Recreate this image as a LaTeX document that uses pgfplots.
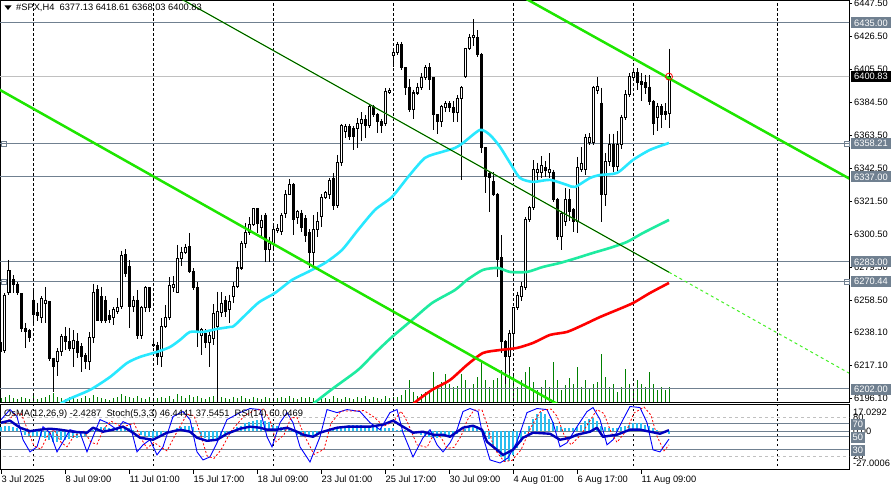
\documentclass[border=0pt]{standalone}
\usepackage{fontspec}
\setmainfont{Liberation Sans}
\usepackage{pgfplots}
\usepackage{pgfplotstable}
\pgfplotsset{compat=1.18}

\definecolor{slate}{RGB}{112,128,144}
\definecolor{silv}{RGB}{192,192,192}
\definecolor{macyan}{RGB}{40,232,255}
\definecolor{masg}{RGB}{30,235,160}
\definecolor{tline}{RGB}{30,230,0}
\definecolor{tdash}{RGB}{70,240,40}
\definecolor{volg}{RGB}{0,128,0}
\definecolor{osma}{RGB}{40,190,240}
\definecolor{rsib}{RGB}{0,0,190}
\newcommand\lbl{\fontsize{9.3}{11}\selectfont}

% H4 candles: bar index, open, high, low, close
\pgfplotstableread{
i o h l c
0 6231.3 6233.2 6223.6 6225.6
1 6226.8 6263.1 6225.0 6261.8
2 6263.1 6284.1 6261.8 6277.3
3 6271.4 6274.6 6263.1 6268.2
4 6268.8 6270.0 6261.8 6263.1
5 6262.5 6263.0 6238.0 6240.8
6 6240.8 6244.0 6228.0 6238.3
7 6238.9 6240.0 6232.0 6234.5
8 6258.6 6265.0 6242.7 6249.1
9 6250.5 6257.0 6245.0 6248.5
10 6247.8 6261.0 6244.0 6259.3
11 6256.7 6267.0 6244.0 6258.6
12 6257.4 6258.0 6220.0 6221.7
13 6221.7 6222.0 6200.3 6216.0
14 6219.2 6228.0 6210.0 6225.6
15 6225.6 6237.0 6223.0 6235.1
16 6235.1 6241.5 6226.8 6231.9
17 6231.9 6241.0 6226.0 6228.0
18 6228.0 6239.5 6216.0 6233.0
19 6232.5 6237.6 6222.0 6225.0
20 6229.0 6231.0 6213.0 6222.4
21 6223.0 6225.0 6215.0 6219.8
22 6219.2 6238.0 6214.0 6234.5
23 6235.0 6269.0 6231.0 6263.7
24 6265.0 6268.0 6245.0 6245.9
25 6260.6 6267.0 6244.0 6245.9
26 6258.6 6261.0 6244.0 6245.9
27 6248.5 6252.0 6244.0 6246.5
28 6247.2 6254.0 6243.0 6252.3
29 6251.0 6260.0 6250.0 6254.0
30 6254.2 6290.0 6253.0 6286.7
31 6287.3 6291.0 6273.0 6275.8
32 6279.7 6284.0 6241.0 6254.2
33 6254.2 6261.0 6251.0 6258.6
34 6258.6 6265.0 6234.0 6236.3
35 6236.3 6255.0 6234.0 6253.6
36 6253.6 6267.5 6251.0 6266.3
37 6266.3 6266.3 6251.0 6253.6
38 6230.6 6234.5 6228.7 6229.4
39 6229.4 6232.0 6217.0 6222.4
40 6222.4 6247.0 6216.0 6241.5
41 6241.5 6255.5 6240.8 6247.2
42 6247.2 6273.0 6246.0 6267.6
43 6266.9 6273.8 6264.0 6268.2
44 6263.7 6293.7 6263.0 6284.8
45 6284.8 6292.4 6280.0 6288.6
46 6288.6 6294.0 6288.0 6291.8
47 6292.4 6301.3 6276.0 6276.5
48 6276.5 6279.0 6265.0 6266.3
49 6266.3 6270.0 6229.0 6238.3
50 6236.3 6241.0 6223.6 6239.6
51 6237.6 6240.0 6228.0 6231.3
52 6231.3 6238.0 6216.0 6236.3
53 6234.0 6256.0 6230.0 6250.0
54 6242.0 6264.0 6194.0 6251.0
55 6250.4 6263.7 6248.0 6256.7
56 6258.6 6261.0 6248.0 6251.0
57 6252.6 6262.0 6244.0 6257.8
58 6260.6 6270.0 6257.0 6267.0
59 6267.0 6283.3 6266.0 6279.0
60 6279.0 6296.2 6278.0 6294.9
61 6294.9 6307.7 6291.8 6301.3
62 6301.3 6311.4 6300.0 6307.0
63 6307.0 6317.2 6306.0 6316.6
64 6316.6 6317.2 6301.0 6307.6
65 6305.0 6313.0 6299.0 6309.0
66 6312.7 6314.0 6283.0 6290.5
67 6290.5 6299.0 6283.0 6294.9
68 6294.9 6306.4 6291.0 6303.8
69 6303.0 6307.0 6301.0 6304.2
70 6302.5 6314.0 6300.0 6312.7
71 6313.4 6328.5 6311.0 6326.0
72 6326.0 6335.7 6325.5 6331.9
73 6331.9 6333.2 6300.0 6309.6
74 6310.9 6316.0 6307.0 6314.7
75 6314.0 6316.0 6302.0 6304.5
76 6310.2 6312.7 6295.5 6300.0
77 6301.3 6303.8 6279.0 6288.6
78 6288.6 6312.7 6279.0 6303.2
79 6303.2 6314.7 6299.0 6308.3
80 6311.5 6325.8 6305.0 6324.0
81 6324.0 6328.0 6323.0 6327.0
82 6326.0 6336.3 6323.0 6334.4
83 6335.7 6339.5 6316.0 6319.1
84 6319.1 6351.0 6317.0 6345.9
85 6345.9 6370.7 6344.0 6369.4
86 6365.6 6370.7 6362.0 6368.8
87 6368.8 6370.7 6360.5 6362.4
88 6367.5 6369.4 6354.0 6362.4
89 6368.1 6374.5 6355.3 6370.7
90 6370.7 6378.0 6360.0 6373.3
91 6373.3 6376.4 6362.0 6369.4
92 6369.4 6383.0 6368.0 6381.5
93 6381.5 6383.0 6375.0 6377.0
94 6377.0 6377.6 6365.0 6372.0
95 6372.0 6374.0 6365.0 6370.0
96 6371.3 6393.4 6369.4 6391.6
97 6390.8 6393.6 6390.0 6391.9
98 6414.0 6418.5 6407.0 6416.0
99 6415.9 6423.0 6414.7 6421.0
100 6421.0 6422.9 6405.0 6406.4
101 6406.4 6406.4 6389.4 6394.2
102 6394.2 6399.0 6378.0 6379.6
103 6379.6 6392.6 6374.0 6390.4
104 6390.4 6396.8 6389.4 6394.2
105 6393.6 6403.0 6392.0 6400.0
106 6400.0 6408.0 6398.7 6406.4
107 6406.4 6409.6 6392.3 6398.7
108 6400.0 6400.6 6366.9 6376.4
109 6376.4 6376.4 6364.0 6372.0
110 6372.0 6383.0 6369.0 6381.5
111 6380.9 6385.0 6378.0 6383.4
112 6383.4 6385.0 6378.0 6380.9
113 6380.9 6385.0 6372.0 6378.3
114 6378.3 6389.0 6372.0 6387.2
115 6387.2 6394.8 6335.0 6393.6
116 6400.6 6419.2 6400.0 6418.5
117 6419.0 6428.0 6418.0 6426.0
118 6425.5 6437.3 6420.0 6426.8
119 6425.5 6430.5 6413.4 6414.6
120 6414.6 6415.9 6352.2 6355.4
121 6355.4 6356.0 6326.8 6337.0
122 6339.0 6340.0 6314.7 6336.3
123 6333.8 6340.0 6325.0 6326.0
124 6326.0 6326.8 6273.3 6284.1
125 6285.4 6300.0 6224.9 6231.9
126 6231.9 6233.0 6205.0 6222.4
127 6222.4 6239.6 6212.0 6237.6
128 6237.6 6254.2 6227.0 6253.6
129 6253.6 6264.0 6252.0 6261.8
130 6260.6 6270.0 6258.0 6267.0
131 6266.3 6311.5 6265.0 6309.6
132 6309.6 6318.5 6308.0 6317.2
133 6317.2 6347.7 6316.0 6341.4
134 6339.5 6346.0 6334.0 6342.0
135 6339.5 6350.0 6336.0 6344.0
136 6343.0 6347.0 6337.0 6340.8
137 6340.0 6352.0 6336.0 6341.4
138 6340.0 6341.4 6321.0 6322.3
139 6322.3 6323.6 6296.8 6298.8
140 6298.8 6315.3 6290.5 6314.0
141 6308.3 6330.0 6306.0 6322.3
142 6322.3 6329.0 6309.0 6314.7
143 6316.0 6317.0 6302.0 6308.3
144 6308.3 6349.7 6301.3 6342.7
145 6342.0 6356.0 6340.0 6345.3
146 6341.4 6364.0 6338.0 6361.8
147 6358.6 6365.0 6357.0 6361.8
148 6358.6 6395.0 6357.0 6393.6
149 6392.0 6400.6 6390.0 6394.5
150 6384.0 6393.6 6308.3 6325.5
151 6325.5 6352.0 6318.5 6346.5
152 6346.5 6364.5 6344.0 6357.3
153 6357.3 6364.5 6340.0 6343.3
154 6343.5 6366.0 6341.0 6357.3
155 6357.3 6376.5 6355.0 6374.5
156 6374.5 6392.3 6373.3 6389.2
157 6389.2 6403.0 6388.0 6400.6
158 6400.0 6404.9 6398.7 6403.2
159 6403.2 6406.0 6392.0 6397.4
160 6397.4 6403.0 6385.0 6395.5
161 6397.0 6402.0 6390.0 6394.0
162 6394.2 6402.0 6383.0 6384.7
163 6384.7 6386.0 6363.7 6371.3
164 6375.0 6384.0 6366.0 6381.5
165 6381.5 6383.5 6368.0 6376.4
166 6378.5 6384.0 6373.0 6376.4
167 6377.13 6418.61 6368.03 6400.83
}\candles

% tick volume, in pixels of the price panel
\pgfplotstableread{
i v
0 4
1 5
2 7
3 4
4 3
5 5
6 4
7 3
8 6
9 3
10 4
11 5
12 7
13 9
14 5
15 4
16 3
17 5
18 4
19 3
20 4
21 6
22 4
23 7
24 5
25 4
26 3
27 2
28 4
29 5
30 8
31 6
32 5
33 4
34 6
35 4
36 3
37 5
38 3
39 4
40 5
41 4
42 6
43 3
44 8
45 6
46 4
47 7
48 5
49 6
50 4
51 3
52 5
53 6
54 12
55 5
56 4
57 3
58 5
59 4
60 6
61 4
62 3
63 5
64 4
65 3
66 5
67 4
68 3
69 4
70 5
71 4
72 6
73 4
74 3
75 5
76 4
77 5
78 4
79 3
80 5
81 4
82 3
83 6
84 4
85 3
86 5
87 4
88 3
89 5
90 4
91 6
92 3
93 5
94 4
95 3
96 6
97 4
98 5
99 5
100 7
101 12
102 22
103 10
104 6
105 8
106 10
107 12
108 30
109 17
110 20
111 28
112 18
113 15
114 16
115 28
116 22
117 13
118 18
119 25
120 40
121 22
122 15
123 22
124 24
125 32
126 45
127 38
128 28
129 15
130 22
131 30
132 35
133 20
134 12
135 15
136 22
137 15
138 40
139 22
140 12
141 17
142 24
143 18
144 35
145 15
146 22
147 13
148 18
149 20
150 48
151 25
152 15
153 18
154 10
155 15
156 33
157 18
158 12
159 22
160 18
161 15
162 30
163 18
164 12
165 15
166 12
167 15
}\volume

% OsMA(12,26,9) histogram
\pgfplotstableread{
i v
0 4
1 5
2 5
3 4
4 3
5 -1
6 -3
7 -4
8 -4
9 -4
10 -5
11 -6
12 -8
13 -9
14 -9
15 -8
16 -8
17 -7
18 -6
19 -6
20 -5
21 -4
22 -1
23 1
24 3
25 4
26 4
27 3
28 3
29 3
30 4
31 4
32 3
33 1
34 0
35 -3
36 -4
37 -5
38 -6
39 -6
40 -4
41 -1
42 0
43 1
44 3
45 4
46 5
47 5
48 4
49 -1
50 -4
51 -6
52 -8
53 -8
54 -7
55 -5
56 -3
57 -1
58 1
59 4
60 5
61 7
62 8
63 9
64 10
65 10
66 9
67 8
68 6
69 5
70 4
71 3
72 1
73 -1
74 -3
75 -4
76 -5
77 -5
78 -4
79 -3
80 -1
81 1
82 1
83 3
84 3
85 4
86 5
87 6
88 6
89 6
90 6
91 5
92 5
93 4
94 4
95 3
96 3
97 3
98 3
99 1
100 1
101 1
102 0
103 0
104 -1
105 -3
106 -4
107 -5
108 -6
109 -6
110 -5
111 -4
112 -4
113 -3
114 -2
115 0
116 2
117 4
118 5
119 5
120 3
121 -2
122 -7
123 -12
124 -18
125 -23
126 -27
127 -26
128 -21
129 -15
130 -9
131 -2
132 5
133 11
134 15
135 17
136 15
137 11
138 8
139 5
140 4
141 3
142 3
143 3
144 4
145 6
146 9
147 11
148 12
149 9
150 5
151 4
152 3
153 3
154 3
155 4
156 5
157 6
158 7
159 7
160 7
161 6
162 5
163 3
164 1
165 0
166 -1
167 -2.43
}\osma

\pgfplotsset{
  mt4/.style={scale only axis, width=849pt, xmin=-0.25, xmax=212,
    anchor=north west, clip mode=individual,
    axis line style={black, line width=0.8pt}},
  grd/.style={black, line width=0.7pt, dash pattern=on 2.5pt off 2.5pt, forget plot},
  hl/.style={slate, line width=1pt, forget plot},
  eb/.style={draw=none, mark=none, forget plot,
    error bars/.cd, y dir=minus, y explicit, error mark=none,
    error bar style={#1}},
}
\tikzset{pbox/.style={anchor=west, fill=slate, text=white, font=\lbl,
  inner xsep=3pt, inner ysep=0pt, minimum height=11pt}}

\begin{document}
\begin{tikzpicture}[x=1pt, y=1pt]
\useasboundingbox (0pt,0pt) rectangle (893pt,-487pt);
\fill[white] (0pt,0pt) rectangle (893pt,-487pt);

% volume behind the price panel
\begin{axis}[mt4, at={(0pt,0pt)}, height=402pt, ymin=0, ymax=402, hide axis]
\addplot[ycomb, volg, line width=1pt, mark=none] table[x=i, y=v] {\volume};
\end{axis}

% price panel
\begin{axis}[mt4, at={(0pt,0pt)}, height=402pt, ymin=6193.7, ymax=6449.6,
  xtick=\empty,
  ytick={6196.1,6217.1,6238.1,6258.5,6279.5,6300.5,6321.5,6342.5,6363.5,6384.5,6405.5,6426.5,6447.5},
  yticklabels={6196.10,6217.10,6238.10,6258.50,6279.50,6300.50,6321.50,6342.50,6363.50,6384.50,6405.50,6426.50,6447.50},
  ytick pos=right, yticklabel pos=right, tick align=outside, major tick length=3pt,
  tick style={black, line width=0.8pt},
  yticklabel style={font=\lbl, anchor=west, inner sep=0pt, xshift=2pt}]
\pgfplotsinvokeforeach{8,38,68,98,128,158,194}{
  \addplot[grd] coordinates {(#1,6150) (#1,6500)};}
\addplot[hl] coordinates {(-1,6435) (213,6435)};
\addplot[hl] coordinates {(-1,6358.21) (213,6358.21)};
\addplot[hl] coordinates {(-1,6337) (213,6337)};
\addplot[hl] coordinates {(-1,6283) (213,6283)};
\addplot[hl] coordinates {(-1,6270.44) (213,6270.44)};
\addplot[hl] coordinates {(-1,6202) (213,6202)};
\addplot[silv, line width=1pt, forget plot] coordinates {(-1,6400.83) (213,6400.83)};
% candles: wick, body, hollow inside of rising bars
\addplot[eb={black, line width=1pt}] table[x=i, y=h,
  y error minus expr={\thisrow{h}-\thisrow{l}}] {\candles};
\addplot[eb={black, line width=3pt}] table[x=i,
  y expr={max(\thisrow{o},\thisrow{c})+0.32},
  y error minus expr={abs(\thisrow{o}-\thisrow{c})+0.64}] {\candles};
\addplot[eb={white, line width=1pt}] table[x=i,
  y expr={\thisrow{c}-0.32},
  y error minus expr={max(\thisrow{c}-\thisrow{o}-0.64,0)}] {\candles};
% moving averages
\addplot[macyan, line width=2.6pt, smooth, tension=0.4, mark=none] coordinates {
(12,6188) (16.5,6195.0) (22.25,6201.4) (27.25,6209.6) (31.5,6218.5) (34.75,6222.4)
(39,6225.6) (42.25,6228.7) (44.75,6233.2) (47.25,6238.3) (50.5,6238.3) (54,6240.2)
(57.25,6241.5) (58.5,6242.7) (64.25,6256.7) (68.5,6263.1) (72.75,6271.4) (76.75,6276.5)
(81,6282.2) (85.25,6290.5) (89.25,6303.2) (93.5,6316.0) (97.75,6324.2) (101.75,6336.9)
(106,6349.1) (110.25,6352.9) (113.5,6355.4) (115.5,6358.6) (119.75,6366.9) (122.25,6363.7)
(124.75,6356.1) (127.25,6345.9) (129.75,6336.3) (133,6333.8) (137.25,6335.1) (141.5,6331.9)
(143.5,6330.6) (147.25,6336.3) (149.75,6338.2) (154,6339.5) (158,6347.8) (162.25,6354.2)
(167,6358.6)};
\addplot[masg, line width=2.6pt, smooth, tension=0.4, mark=none] coordinates {
(76,6188) (79.25,6195.0) (83.5,6203.3) (89.25,6214.1) (93.5,6224.9) (97.75,6235.1)
(102.75,6245.9) (107.75,6256.7) (113.5,6265.0) (116.5,6271.4) (120.5,6277.8) (124.25,6279.0)
(127.25,6276.5) (131.5,6276.5) (135.5,6279.7) (139.75,6282.2) (144,6285.4) (148,6288.6)
(152.25,6291.8) (156.5,6295.6) (160.5,6301.3) (167,6309.6)};
\addplot[red, line width=2.6pt, smooth, tension=0.4, mark=none] coordinates {
(101,6188) (104.25,6195.0) (107.75,6201.4) (112.25,6207.7) (116.5,6217.3) (120.5,6224.9)
(124.75,6226.8) (129,6228.1) (133,6231.3) (137.25,6236.4) (141.5,6238.3) (145.5,6242.7)
(149.75,6247.8) (154,6252.3) (158,6256.7) (162.25,6263.1) (167,6269.5)};
% trend lines
\addplot[tline, line width=2.5pt] coordinates {(-1,6393.4) (145,6183.9)};
\addplot[tline, line width=2.5pt] coordinates {(125,6459.2) (213,6334.6)};
\addplot[tline, line width=1.2pt] coordinates {(44,6451.8) (167,6276.3)};
\addplot[black, line width=0.5pt] coordinates {(44,6451.8) (167,6276.3)};
\addplot[tdash, line width=1pt, dash pattern=on 3pt off 3pt] coordinates {(167,6276.3) (212,6212.1)};
% markers
\addplot[only marks, mark=o, red, mark size=3.5pt, line width=0.8pt] coordinates {(167,6400.83)};
\addplot[only marks, mark=square, slate, mark size=2.5pt, mark options={fill=white}] coordinates {(0.6,6358.21) (0.6,6270.44) (211.4,6358.21) (211.4,6270.44)};
\addplot[only marks, mark=triangle*, mark size=4pt, mark options={rotate=180, fill=gray!60, draw=gray!60}] coordinates {(169,6450)};
\end{axis}

% indicator panel: levels, grid, date axis
\begin{axis}[mt4, at={(0pt,-404pt)}, height=65.5pt, ymin=0, ymax=100,
  ytick=\empty, xtick={0,16,...,160},
  xticklabels={3 Jul 2025, 8 Jul 09:00, 11 Jul 01:00, 15 Jul 17:00, 18 Jul 09:00, 23 Jul 01:00, 25 Jul 17:00, 30 Jul 09:00, 4 Aug 01:00, 6 Aug 17:00, 11 Aug 09:00},
  xtick pos=bottom, tick align=outside, major tick length=4pt,
  tick style={black, line width=0.8pt},
  xticklabel style={font=\lbl, anchor=base west, inner sep=0pt, xshift=0.5pt, yshift=-9pt}]
\pgfplotsinvokeforeach{8,38,68,98,128,158,194}{
  \addplot[grd] coordinates {(#1,-10) (#1,110)};}
\addplot[silv, line width=0.8pt, dash pattern=on 3pt off 3pt] coordinates {(-1,80) (213,80)};
\addplot[silv, line width=0.8pt, dash pattern=on 3pt off 3pt] coordinates {(-1,20) (213,20)};
\addplot[hl] coordinates {(-1,70) (213,70)};
\addplot[hl] coordinates {(-1,50) (213,50)};
\addplot[hl] coordinates {(-1,30) (213,30)};
\end{axis}

% OsMA histogram
\begin{axis}[mt4, at={(0pt,-404pt)}, height=65.5pt, ymin=-33.6, ymax=24.07, hide axis]
\addplot[hl] coordinates {(-1,0) (213,0)};
\addplot[ycomb, osma, line width=2.2pt, mark=none] table[x=i, y=v] {\osma};
\end{axis}

% Stochastic and RSI
\begin{axis}[mt4, at={(0pt,-404pt)}, height=65.5pt, ymin=0, ymax=100, hide axis]
\addplot[blue, line width=0.9pt, mark=none] coordinates {
(0,76) (2.25,91.5) (4,80.8) (5.5,45.4) (7.25,26.9) (9,34.6) (10.5,65.4) (12.25,56.2)
(14,26.9) (15.5,42.3) (17.25,60.8) (19.75,56.2) (21.5,26.9) (23,50) (24.75,76.2) (26.5,71.5)
(29,60.8) (30.5,73.1) (32.25,68.5) (34,26.9) (35.5,37.7) (37.25,45.4) (39,22.3) (40.5,34.6)
(43,80.8) (45.5,88.5) (47.25,76.2) (49,26.9) (50.5,14.6) (52.25,19.2) (54,40.8) (56.5,76.2)
(59.75,86.9) (62.25,93.1) (64.75,91.5) (66.5,50) (67.75,34.6) (69.75,71.5) (71.5,86.9) (73,71.5)
(74.75,34.6) (77.25,11.5) (79.75,50) (81.5,91.5) (84,86.9) (86.5,91.5) (89.75,88.5) (92.25,71.5)
(94.75,60.8) (97.25,86.9) (99,91.5) (100.5,56.2) (103,19.2) (105.5,48.5) (107.25,60.8) (109,37.7)
(110.5,26.9) (112.25,40.8) (114,60.8) (115.5,88.5) (117.25,93.1) (119.25,88.5) (120.5,50) (122.25,14.6)
(124.75,10) (126.75,17.7) (129,42.3) (131.5,86.9) (134,93.1) (136.5,91.5) (138,71.5) (139.75,34.6)
(141.5,40.8) (144,65.4) (146.5,88.5) (148,94.6) (149.75,76.2) (151.5,37.7) (153,45.4) (155.5,76.2)
(157.25,96.2) (159.75,94.6) (161.5,71.5) (163,30) (164.75,26.9) (167,46.44)};
\addplot[red, line width=0.8pt, dash pattern=on 2pt off 2pt, mark=none] coordinates {
(1,70) (3.25,83.8) (5,86) (6.5,63) (8.25,36) (10,31) (11.5,50) (13.25,61) (15,41.5) (16.5,34.6)
(18.25,51.5) (20.75,58.5) (22.5,41.5) (24,38.5) (25.75,63) (27.5,73.8) (30,66) (31.5,67)
(33.25,70.8) (35,47.7) (36.5,32.3) (38.25,41.5) (40,33.8) (41.5,28.5) (44,57.7) (46.5,84.6)
(48.25,82.3) (50,51.5) (51.5,20.8) (53.25,16.9) (55,30) (57.5,58.5) (60.75,81.5) (63.25,90)
(65.75,92.3) (67.5,70.8) (68.75,42.3) (70.75,53) (72.5,79.2) (74,79.2) (75.75,53) (78.25,23)
(80.75,30.8) (82.5,70.8) (85,89.2) (87.5,89.2) (90.75,90) (93.25,80) (95.75,66.2) (98.25,73.8)
(100,89.2) (101.5,73.8) (104,37.7) (106.5,33.8) (108.25,54.6) (110,49.2) (111.5,32.3) (113.25,33.8)
(115,50.8) (116.5,74.6) (118.25,90.8) (120.25,90.8) (121.5,69.2) (123.25,32.3) (125.75,12.3)
(127.75,13.8) (130,30) (132.5,64.6) (135,90) (137.5,92.3) (139,81.5) (140.75,53) (142.5,37.7)
(145,53) (147.5,77) (149,91.5) (150.75,85.4) (152.5,57) (154,41.5) (156.5,60.8) (158.25,86.2)
(160.75,95.4) (162.5,83) (164,50.8) (165.75,28.5) (167,37.55)};
\addplot[rsib, line width=2.4pt, mark=none, line join=round] coordinates {
(0,71.5) (2.25,74.6) (4.75,63.8) (7.25,58.5) (9.75,60.8) (12.25,62.3) (14.75,60.8) (18,57.7)
(21.5,56.2) (23,63.8) (25.5,57.7) (28,60.8) (30.5,65.4) (33,56.2) (34.75,48.5) (38,45.4)
(41.5,56.2) (44.75,60.8) (47.25,57.7) (49,48.5) (51.5,43.8) (54,45.4) (56.5,54.6) (59.75,62.3)
(62.25,65.4) (64.75,63.8) (66.5,60.8) (69,60.8) (71.5,63.8) (74,57.7) (75.5,53.1) (78,50)
(79.75,56.2) (82.25,60.8) (84,63.8) (86.5,65.4) (89.75,65.4) (92.25,65.4) (95.5,68.5) (98,74.6)
(100.5,65.4) (103,56.2) (105.5,57.7) (108,53.1) (110.5,53.1) (112.25,50) (115.5,63.8) (118,66.9)
(120.25,60.8) (121.5,42.3) (124,30) (125.5,22.3) (128,30) (130.5,48.5) (133,56.2) (137.25,54.6)
(139.75,45.4) (142.25,48.5) (144,53.1) (147.25,57.7) (149,63.8) (150.5,50) (154,53.1) (157.25,60.8)
(159.75,60.8) (162.25,57.7) (164.75,54.6) (167,60.05)};
\end{axis}

% header and labels
\fill (4.5pt,-5.5pt) -- (11.5pt,-5.5pt) -- (8pt,-10pt) -- cycle;
\node[anchor=base west, inner sep=0pt, font=\lbl] at (16pt,-11pt) {\#SPX,H4\ \ 6377.13 6418.61 6368.03 6400.83};
\node[anchor=base west, inner sep=0pt, font=\lbl] at (4pt,-416pt) {OsMA(12,26,9) -2.4287\ \ Stoch(5,3,3) 46.4441 37.5451\ \ RSI(14) 60.0469};

\node[pbox] at (851pt,-23pt) {6435.00};
\node[pbox, fill=black] at (851pt,-76.7pt) {6400.83};
\node[pbox] at (851pt,-143.6pt) {6358.21};
\node[pbox] at (851pt,-176.9pt) {6337.00};
\node[pbox] at (851pt,-261.8pt) {6283.00};
\node[pbox] at (851pt,-281.5pt) {6270.44};
\node[pbox] at (851pt,-389pt) {6202.00};

\node[anchor=west, inner sep=0pt, font=\lbl] at (853pt,-412pt) {17.0292};
\node[anchor=west, inner sep=0pt, font=\lbl] at (853pt,-417.5pt) {80};
\node[anchor=west, inner sep=0pt, font=\lbl] at (853pt,-431.3pt) {0.00};
\node[anchor=west, inner sep=0pt, font=\lbl] at (853pt,-456.5pt) {20};
\node[pbox, inner xsep=1.5pt] at (851pt,-424pt) {70};
\node[pbox, inner xsep=1.5pt] at (851pt,-437pt) {50};
\node[pbox, inner xsep=1.5pt] at (851pt,-450pt) {30};
\node[anchor=west, inner sep=0pt, font=\lbl] at (853pt,-463pt) {-27.0006};
\end{tikzpicture}
\end{document}
